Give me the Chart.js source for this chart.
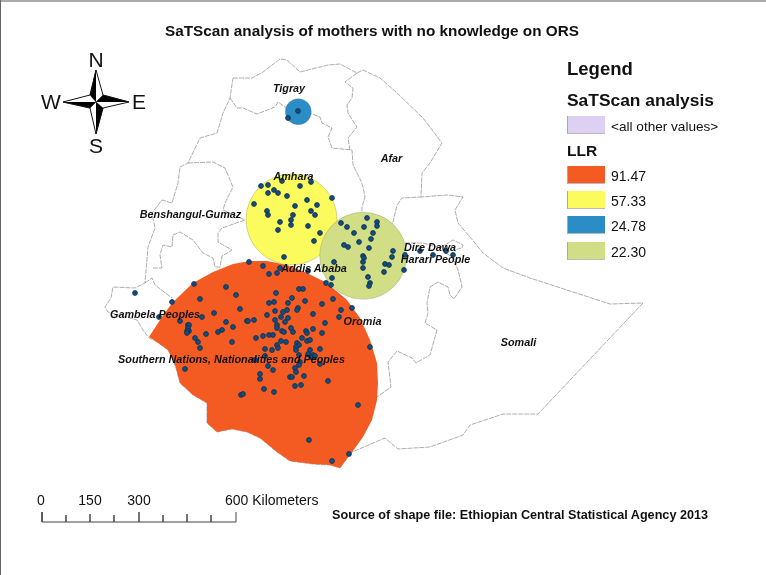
<!DOCTYPE html>
<html>
<head>
<meta charset="utf-8">
<title>SaTScan analysis</title>
<script src="https://cdn.jsdelivr.net/npm/chart.js@4/dist/chart.umd.js"></script>
<style>
    html, body { margin: 0; padding: 0; background: #fff; }
    #wrap { position: relative; width: 766px; height: 575px; overflow: hidden; font-family: "Liberation Sans", Arial, sans-serif; color: #111; }
    #map { position: absolute; left: 0; top: 0; }
    #edgeTop { position: absolute; left: 0; top: 0; width: 766px; height: 2px; background: #aaa; }
    #edgeLeft { position: absolute; left: 0; top: 0; width: 1px; height: 575px; background: #666; }
    .txt { position: absolute; white-space: nowrap; line-height: 1; }
    .region { font-weight: bold; font-style: italic; font-size: 10.8px; transform: translate(-50%, -50%); }
    .swatch { position: absolute; left: 567px; width: 38px; height: 18px; border-left: 1px solid #aaa; border-bottom: 1px solid #bbb; box-sizing: border-box; }
</style>
</head>
<body>
<div id="wrap"><canvas id="map" width="766" height="575"></canvas><div id="edgeTop"></div><div id="edgeLeft"></div></div>
<script>
// Map outlines (map units = picture position)
const countryOutline = [[233,78],[252,78],[263,72],[280,59],[287,60],[300,72],[320,67],[328,65],[340,64],[357,73],[363,70],[380,78],[397,93],[423,118],[442,143],[430,163],[422,173],[421,197],[447,195],[463,197],[455,210],[458,223],[470,237],[483,253],[503,268],[530,278],[610,304],[643,303],[538,414],[503,414],[470,425],[463,435],[430,447],[398,449],[385,438],[350,453],[340,468],[330,465],[313,464],[290,461],[277,452],[260,438],[247,432],[232,429],[217,432],[207,423],[207,403],[193,395],[180,383],[176,368],[173,360],[168,350],[157,342],[149,338],[143,330],[137,320],[108,312],[105,307],[111,298],[113,287],[135,288],[145,283],[148,247],[155,228],[152,213],[162,200],[172,203],[178,183],[180,167],[188,163],[200,138],[217,133],[223,113],[230,98],[233,78]];
const tigrayBorder = [[230,98],[237,108],[243,108],[257,114],[275,107],[278,102],[285,107],[298,111],[312,114],[320,117],[322,123],[332,128],[328,137],[332,148],[352,150],[353,165],[361,181],[363,187],[365,197],[362,207],[362,212]];
const afarWest = [[357,73],[345,82],[353,88],[352,98],[347,105],[348,113],[357,127],[348,138],[350,150]];
const afarSouth = [[390,228],[393,222],[397,205],[402,198],[421,197]];
const benshangulNorth = [[188,163],[213,162],[225,168],[233,187],[225,203],[223,210],[245,220]];
const benshangulSouth = [[145,283],[152,278],[155,285],[172,298]];
const benshangulInner = [[153,268],[162,268],[160,255],[163,245],[172,247],[173,235],[180,232],[193,240],[203,253],[213,258],[215,267],[220,267],[222,256],[232,250],[218,242],[218,233],[222,228],[245,220]];
const somaliBorder = [[405,243],[423,243],[440,248],[453,240],[463,245],[462,248],[445,252],[453,258],[458,270],[460,278],[462,287],[454,299],[450,295],[448,287],[438,282],[430,287],[427,303],[428,313],[425,323],[437,330],[430,355],[416,363],[412,358],[397,351],[388,362],[391,387],[377,397]];

// Clusters
const llrLabels = ['91.47', '57.33', '24.78', '22.30'];
const llrColors = ['#f35b22', '#fbfb5e', '#2a8dc5', '#d1de86'];
const otherColor = '#ddd0f2';
const redCluster = [[149,337],[160,320],[172,303],[193,283],[213,272],[233,264],[250,261],[267,261],[287,265],[307,273],[327,283],[347,300],[360,318],[370,340],[377,363],[378,383],[377,400],[372,420],[363,437],[350,455],[340,468],[330,465],[313,464],[290,461],[277,452],[260,438],[247,432],[232,429],[217,432],[207,423],[207,403],[193,395],[180,383],[176,368],[173,360],[168,350],[157,342]];
const yellowCenter = [291.5, 219.5];
const blueCenter = [298.3, 111.7];
const greenCenter = [363.2, 255.8];

// Surveyed locations
const sites = [[298,111],[288,118],
    [261,186],[268,185],[282,181],[300,186],[311,182],[268,193],[274,190],[278,193],[287,196],[332,198],[307,200],[317,205],[254,204],[295,206],[267,211],[268,215],[293,215],[311,211],[315,215],[291,220],[280,222],[291,225],[308,226],[278,230],[320,233],[314,241],[284,257],
    [367,218],[341,223],[347,227],[364,227],[377,222],[377,226],[354,233],[373,233],[371,239],[359,242],[344,245],[348,247],[369,248],[393,251],[392,257],[363,256],[364,258],[363,262],[363,268],[334,262],[385,264],[389,265],[384,272],[404,270],[405,255],[368,277],[332,278],[370,283],[369,286],
    [420,251],[433,255],[446,251],[453,255],
    [249,262],[263,266],[269,274],[277,273],[280,268],[308,271],
    [194,284],[226,287],[135,293],[236,295],[276,293],[299,289],[303,289],[326,283],[331,285],
    [172,302],[200,299],[269,303],[274,302],[288,303],[292,298],[305,301],[322,304],[333,299],[341,310],[352,308],[339,317],
    [240,309],[275,311],[283,312],[287,310],[298,308],[297,310],[313,314],
    [214,313],[202,317],[159,317],[180,321],[267,315],[281,317],[288,318],[275,320],[285,322],
    [247,321],[248,321],[254,320],[226,322],[325,323],
    [188,325],[189,325],[188,328],[189,331],[187,331],[187,333],[233,327],[277,325],[277,328],[291,328],[313,329],
    [222,330],[218,332],[206,334],[282,331],[284,332],[293,332],[306,331],[307,333],[322,333],
    [195,338],[256,338],[263,336],[269,335],[273,335],[302,338],[307,341],[310,340],
    [198,342],[232,342],[281,341],[286,342],[297,343],[277,345],[299,345],[296,347],
    [200,348],[265,349],[272,350],[278,348],[296,350],[310,350],[320,349],[370,347],
    [308,354],[313,355],[299,355],[311,357],[315,356],[265,356],
    [255,360],[300,362],[299,365],[320,364],[268,366],[273,370],[295,368],[185,369],[296,372],
    [260,374],[304,376],[290,377],[292,377],[260,379],[328,381],[295,386],[301,385],
    [264,389],[274,392],[241,395],[243,394],[358,405],[309,440],[349,454],[332,461]];

// Region names
const regionNames = ['Tigray', 'Afar', 'Amhara', 'Benshangul-Gumaz', 'Addis Ababa', 'Dire Dawa', 'Harari People', 'Gambela Peoples', 'Oromia', 'Southern Nations, Nationalities and Peoples', 'Somali'];
const regionX = [289, 391.5, 293.5, 190.5, 314, 430, 435.5, 155, 362.5, 231.5, 518.5];
const regionY = [88, 158, 176, 214, 268, 247, 259, 314, 321, 359, 342];

// Scale bar
const scaleBar = [[42,512],[42,522],[66,522],[66,515],[66,522],[90,522],[90,514],[90,522],[114,522],[114,515],[114,522],[139,522],[139,512],[139,522],[163,522],[163,515],[163,522],[187,522],[187,514],[187,522],[211,522],[211,515],[211,522],[236,522],[236,512]];
const scaleLabels = ['0', '150', '300', '600 Kilometers'];
const scaleLabelX = [41, 90, 139, 225];

// North arrow
const starOutline = [[96,70],[103,95],[129,102],[103,108],[96,134],[90,108],[63,102],[90,95],[96,70]];
const starNorth = [[96,70],[90,95],[96,102]];
const starEast = [[129,102],[103,95],[96,102]];
const starSouth = [[96,134],[103,108],[96,102]];
const starWest = [[63,102],[90,108],[96,102]];

const toXY = pts => pts.map(p => ({ x: p[0], y: p[1] }));

function borderSet(pts) {
    return { data: toXY(pts), showLine: true, borderColor: '#8a8a8a', borderWidth: 0.7, borderDash: [5, 1], pointRadius: 0, tension: 0, fill: false };
}
function shapeSet(pts, color, lineWidth) {
    return { data: toXY(pts), showLine: true, borderColor: color, borderWidth: lineWidth, backgroundColor: color, pointRadius: 0, tension: 0, fill: 'shape' };
}
function circleSet(center, color, r) {
    return { data: toXY([center]), showLine: false, pointRadius: r, pointBackgroundColor: color, pointBorderColor: 'rgba(120,120,90,0.5)', pointBorderWidth: 0.6 };
}

// Chart.js paints the first dataset on top, so this list runs top to bottom
const datasets = [
    { data: toXY(sites), showLine: false, pointRadius: 2.4, pointBackgroundColor: '#0f4f86', pointBorderColor: '#14304a', pointBorderWidth: 0.9 },
    circleSet(greenCenter, llrColors[3], 43.5),
    circleSet(blueCenter, llrColors[2], 13),
    circleSet(yellowCenter, llrColors[1], 45.5),
    shapeSet(redCluster, llrColors[0], 0),
    borderSet(countryOutline),
    borderSet(tigrayBorder),
    borderSet(afarWest),
    borderSet(afarSouth),
    borderSet(benshangulNorth),
    borderSet(benshangulSouth),
    borderSet(benshangulInner),
    borderSet(somaliBorder),
    { data: toXY(scaleBar), showLine: true, borderColor: '#444', borderWidth: 1, pointRadius: 0, tension: 0 },
    { data: toXY(starOutline), showLine: true, borderColor: '#111', borderWidth: 1, pointRadius: 0, tension: 0 },
    shapeSet(starNorth, '#000', 0.5),
    shapeSet(starEast, '#000', 0.5),
    shapeSet(starSouth, '#000', 0.5),
    shapeSet(starWest, '#000', 0.5)
];

const chart = new Chart(document.getElementById('map'), {
    type: 'scatter',
    data: { datasets: datasets },
    options: {
        responsive: false,
        animation: false,
        events: [],
        layout: { padding: 0, autoPadding: false }, // big cluster circles would otherwise shrink the plot
        scales: {
            x: { display: false, min: 0, max: 766 },
            y: { display: false, min: 0, max: 575, reverse: true }
        },
        plugins: { legend: { display: false }, tooltip: { enabled: false } }
    }
});

// Text overlay
const wrap = document.getElementById('wrap');
function addText(text, x, y, css, cls) {
    const el = document.createElement('div');
    el.className = 'txt' + (cls ? ' ' + cls : '');
    el.textContent = text;
    el.style.left = x + 'px';
    el.style.top = y + 'px';
    el.style.cssText += css || '';
    wrap.appendChild(el);
    return el;
}

regionNames.forEach((name, i) => {
    addText(name, chart.scales.x.getPixelForValue(regionX[i]), chart.scales.y.getPixelForValue(regionY[i]), '', 'region');
});

addText('SaTScan analysis of mothers with no knowledge on ORS', 165, 23, 'font-weight:bold;font-size:15.3px;');
addText('Source of shape file: Ethiopian Central Statistical Agency 2013', 332, 509, 'font-weight:bold;font-size:12.65px;');

scaleLabels.forEach((label, i) => {
    const el = addText(label, scaleLabelX[i], 493, 'font-size:14px;');
    if (i < 3) el.style.transform = 'translateX(-50%)';
});

addText('N', 96, 49, 'font-size:21px;transform:translateX(-50%);');
addText('S', 96, 135, 'font-size:21px;transform:translateX(-50%);');
addText('W', 41, 91, 'font-size:21px;');
addText('E', 132, 91, 'font-size:21px;');

addText('Legend', 567, 60, 'font-weight:bold;font-size:18.5px;');
addText('SaTScan analysis', 567, 92, 'font-weight:bold;font-size:17.4px;');
addText('LLR', 567, 143, 'font-weight:bold;font-size:15.5px;');

function addSwatch(color, top) {
    const el = document.createElement('div');
    el.className = 'swatch';
    el.style.top = top + 'px';
    el.style.background = color;
    wrap.appendChild(el);
}
addSwatch(otherColor, 116);
addText('<all other values>', 611, 120, 'font-size:13.6px;');
llrLabels.forEach((label, i) => {
    const top = 166 + Math.round(i * 25.2);
    addSwatch(llrColors[i], top);
    addText(label, 611, top + 2.5, 'font-size:14px;');
});
</script>
</body>
</html>
